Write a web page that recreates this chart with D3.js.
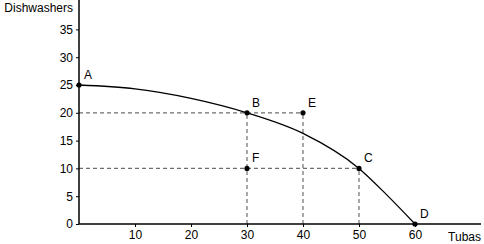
<!DOCTYPE html>
<html>
<head>
<meta charset="utf-8">
<script src="https://cdn.jsdelivr.net/npm/d3@7"></script>
<style>
  body { margin: 0; background: #fff; }
  svg { display: block; font-family: "Liberation Sans", Arial, sans-serif; }
  .axis path, .axis line { stroke: #000; }
  .axis text { font-size: 12px; fill: #000; }
</style>
</head>
<body>
<div class="ppf"></div>
<script>
'use strict'

// Data
const pointNames  = ['A', 'B', 'C', 'D', 'E', 'F'];
const tubas       = [0, 30, 50, 60, 40, 30];
const dishwashers = [25, 20, 10, 0, 20, 10];

// Frontier.
const frontierTubas       = [0, 10, 20, 30, 40, 50, 55, 60];
const frontierDishwashers = [25, 24.3, 22.6, 20, 16.3, 10, 5.2, 0];

const xTicks = [10, 20, 30, 40, 50, 60];
const yTicks = [0, 5, 10, 15, 20, 25, 30, 35];

const points = pointNames.map((n, i) => ({name: n, x: tubas[i], y: dishwashers[i]}));
const frontier = frontierTubas.map((t, i) => ({x: t, y: frontierDishwashers[i]}));
const byName = n => points.find(p => p.name === n);

// Dimensions
let width = 484, height = 244,
    margin = {top: 0, right: 3, bottom: 20, left: 79};

let svg = d3.select('.ppf')
    .append('svg')
    .attr('width', width)
    .attr('height', height);

let x = d3.scaleLinear().domain([0, 60]).range([margin.left, 415]);
let y = d3.scaleLinear().domain([0, 25]).range([224, 85]);

// Dashed guide lines
let guides = [
    [byName('E'), 'h'], [byName('E'), 'v'], [byName('B'), 'v'],
    [byName('C'), 'h'], [byName('C'), 'v']
];
svg.append('g')
    .selectAll('line')
    .data(guides)
    .join('line')
    .attr('x1', d => d[1] === 'h' ? x(0) : x(d[0].x))
    .attr('x2', d => x(d[0].x))
    .attr('y1', d => d[1] === 'h' ? y(d[0].y) : y(0))
    .attr('y2', d => y(d[0].y))
    .attr('stroke', '#6e6e6e')
    .attr('stroke-width', 1.2)
    .attr('stroke-dasharray', '4,3');

// Axes
let xAxis = d3.axisBottom(x).tickValues(xTicks).tickSize(3).tickPadding(3);
let gx = svg.append('g')
    .attr('class', 'axis')
    .attr('transform', `translate(0,${y(0)})`)
    .call(xAxis);
gx.select('.domain').attr('d', `M${x(0)},0H${width - margin.right}`).attr('stroke-width', 1.5);

let yAxis = d3.axisLeft(y).tickValues(yTicks).tickSize(3).tickPadding(3);
let gy = svg.append('g')
    .attr('class', 'axis')
    .attr('transform', `translate(${x(0)},0)`)
    .call(yAxis);
gy.select('.domain').attr('d', `M0,${y(0)}V0`).attr('stroke-width', 1.5);

svg.append('text')
    .attr('x', 73).attr('y', 12)
    .attr('text-anchor', 'end')
    .attr('font-size', 12)
    .text('Dishwashers');

svg.append('text')
    .attr('x', width - 3).attr('y', 241)
    .attr('text-anchor', 'end')
    .attr('font-size', 12)
    .text('Tubas');

// Frontier curve
let line = d3.line()
    .x(d => x(d.x))
    .y(d => y(d.y))
    .curve(d3.curveMonotoneX);
svg.append('path')
    .datum(frontier)
    .attr('d', line)
    .attr('fill', 'none')
    .attr('stroke', '#000')
    .attr('stroke-width', 1.3);

// Points and labels
svg.append('g')
    .selectAll('circle')
    .data(points)
    .join('circle')
    .attr('cx', d => x(d.x))
    .attr('cy', d => y(d.y))
    .attr('r', 2.6)
    .attr('fill', '#000');

svg.append('g')
    .selectAll('text')
    .data(points)
    .join('text')
    .attr('x', d => x(d.x) + 5)
    .attr('y', d => y(d.y) - 6)
    .attr('font-size', 12)
    .text(d => d.name);
</script>
</body>
</html>
